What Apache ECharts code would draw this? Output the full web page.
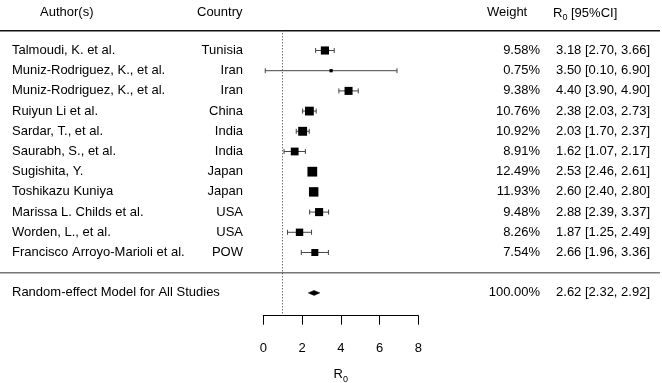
<!DOCTYPE html>
<html>
<head>
<meta charset="utf-8">
<script src="https://cdn.jsdelivr.net/npm/echarts@6/dist/echarts.min.js"></script>
<style>
html, body { margin: 0; padding: 0; background: #fff; }
#chart { width: 662px; height: 383px; }
</style>
</head>
<body>
<div id="chart"></div>
<script>
// study rows
var authors = ['Talmoudi, K. et al.', 'Muniz-Rodriguez, K., et al.', 'Muniz-Rodriguez, K., et al.',
    'Ruiyun Li et al.', 'Sardar, T., et al.', 'Saurabh, S., et al.', 'Sugishita, Y.', 'Toshikazu Kuniya',
    'Marissa L. Childs et al.', 'Worden, L., et al.', 'Francisco Arroyo-Marioli et al.'];
var countries = ['Tunisia', 'Iran', 'Iran', 'China', 'India', 'India', 'Japan', 'Japan', 'USA', 'USA', 'POW'];
var weights = [9.58, 0.75, 9.38, 10.76, 10.92, 8.91, 12.49, 11.93, 9.48, 8.26, 7.54];
var estimates = [3.18, 3.50, 4.40, 2.38, 2.03, 1.62, 2.53, 2.60, 2.88, 1.87, 2.66];
var lowers = [2.70, 0.10, 3.90, 2.03, 1.70, 1.07, 2.46, 2.40, 2.39, 1.25, 1.96];
var uppers = [3.66, 6.90, 4.90, 2.73, 2.37, 2.17, 2.61, 2.80, 3.37, 2.49, 3.36];

// pooled estimate
var summaryLabel = 'Random-effect Model for All Studies';
var summaryWeight = 100.00;
var summaryEst = 2.62;
var summaryLower = 2.32;
var summaryUpper = 2.92;

var xTicks = [0, 2, 4, 6, 8];
var refValue = 1;

var FONT = '13px "Liberation Sans", Arial, sans-serif';
var summaryRow = authors.length + 2;

var wMin = Math.min.apply(null, weights);
var wMax = Math.max.apply(null, weights);
function boxSize(w) {
    // metafor style: point size between 0.5 and 1.5 units
    return 6.5 * (0.5 + (w - wMin) / (wMax - wMin));
}
function fmtCI(e, lo, hi) {
    return e.toFixed(2) + ' [' + lo.toFixed(2) + ', ' + hi.toFixed(2) + ']';
}

var textRows = [];
var ciRows = [];
var pointRows = [];
for (var i = 0; i < authors.length; i++) {
    textRows.push([i + 1, authors[i], countries[i], weights[i].toFixed(2) + '%', fmtCI(estimates[i], lowers[i], uppers[i])]);
    ciRows.push([i + 1, lowers[i], uppers[i]]);
    pointRows.push([estimates[i], i + 1, weights[i]]);
}
textRows.push([summaryRow, summaryLabel, '', summaryWeight.toFixed(2) + '%', fmtCI(summaryEst, summaryLower, summaryUpper)]);

var chart = echarts.init(document.getElementById('chart'));

var subRich = {
    a: { fontSize: 13, fontFamily: 'Liberation Sans', color: '#000', lineHeight: 18, verticalAlign: 'middle' },
    b: { fontSize: 9, fontFamily: 'Liberation Sans', color: '#000', lineHeight: 18, verticalAlign: 'bottom' }
};

var option = {
    animation: false,
    backgroundColor: '#fff',
    grid: { left: 263.3, right: 243.7, top: 30.3, height: 285.4, containLabel: false, outerBoundsMode: 'none' },
    xAxis: {
        type: 'value',
        position: 'bottom',
        min: xTicks[0],
        max: xTicks[xTicks.length - 1],
        interval: 2,
        splitLine: { show: false },
        axisLine: { onZero: false, lineStyle: { color: '#000', width: 1 } },
        axisTick: { length: 9, lineStyle: { color: '#000', width: 1 } },
        axisLabel: { margin: 26, color: '#000', fontSize: 13, fontFamily: 'Liberation Sans' },
        name: '{a|R}{b|0}',
        nameLocation: 'middle',
        nameGap: 50,
        nameTextStyle: { rich: subRich }
    },
    yAxis: {
        type: 'value',
        inverse: true,
        min: 0,
        max: 14.13,
        show: false
    },
    graphic: [
        { type: 'text', left: 40, top: 6, style: { text: 'Author(s)', font: FONT, fill: '#000' } },
        { type: 'text', left: 197, top: 6, style: { text: 'Country', font: FONT, fill: '#000' } },
        { type: 'text', left: 487, top: 6, style: { text: 'Weight', font: FONT, fill: '#000' } },
        { type: 'text', left: 553, top: 6.5, style: { text: '{a|R}{b|0}{a| [95%CI]}', rich: subRich } },
        { type: 'line', shape: { x1: 0, y1: 30.7, x2: 660, y2: 30.7 }, style: { stroke: '#111', lineWidth: 1.5 } },
        { type: 'line', shape: { x1: 0, y1: 272.7, x2: 660, y2: 272.7 }, style: { stroke: '#777', lineWidth: 1.5 } }
    ],
    series: [
        {
            // text columns
            type: 'custom',
            silent: true,
            data: textRows,
            encode: { y: 0 },
            renderItem: function (params, api) {
                var y = api.coord([0, api.value(0)])[1];
                var r = textRows[params.dataIndex];
                return {
                    type: 'group',
                    children: [
                        { type: 'text', style: { x: 12, y: y, text: r[1], font: FONT, fill: '#000', align: 'left', verticalAlign: 'middle' } },
                        { type: 'text', style: { x: 243, y: y, text: r[2], font: FONT, fill: '#000', align: 'right', verticalAlign: 'middle' } },
                        { type: 'text', style: { x: 540, y: y, text: r[3], font: FONT, fill: '#000', align: 'right', verticalAlign: 'middle' } },
                        { type: 'text', style: { x: 650, y: y, text: r[4], font: FONT, fill: '#000', align: 'right', verticalAlign: 'middle' } }
                    ]
                };
            }
        },
        {
            // confidence intervals
            type: 'custom',
            silent: true,
            data: ciRows,
            encode: { x: [1, 2], y: 0 },
            renderItem: function (params, api) {
                var a = api.coord([api.value(1), api.value(0)]);
                var b = api.coord([api.value(2), api.value(0)]);
                var st = { stroke: '#444', lineWidth: 1 };
                return {
                    type: 'group',
                    children: [
                        { type: 'line', shape: { x1: a[0], y1: a[1], x2: b[0], y2: b[1] }, style: st },
                        { type: 'line', shape: { x1: a[0], y1: a[1] - 2.5, x2: a[0], y2: a[1] + 2.5 }, style: st },
                        { type: 'line', shape: { x1: b[0], y1: b[1] - 2.5, x2: b[0], y2: b[1] + 2.5 }, style: st }
                    ]
                };
            }
        },
        {
            // study estimates
            type: 'scatter',
            silent: true,
            symbol: 'rect',
            data: pointRows,
            symbolSize: function (v) { return boxSize(v[2]); },
            itemStyle: { color: '#000', opacity: 1 },
            markLine: {
                silent: true,
                symbol: 'none',
                label: { show: false },
                lineStyle: { color: '#333', width: 1, type: [1, 2] },
                data: [{ xAxis: refValue }]
            }
        },
        {
            // pooled diamond
            type: 'custom',
            silent: true,
            data: [[summaryRow, summaryLower, summaryEst, summaryUpper]],
            encode: { x: [1, 2, 3], y: 0 },
            renderItem: function (params, api) {
                var row = api.value(0);
                var l = api.coord([api.value(1), row]);
                var m = api.coord([api.value(2), row]);
                var u = api.coord([api.value(3), row]);
                return {
                    type: 'polygon',
                    shape: { points: [[l[0], l[1]], [m[0], m[1] - 2.5], [u[0], u[1]], [m[0], m[1] + 2.5]] },
                    style: { fill: '#000', stroke: '#000', lineWidth: 0.5 }
                };
            }
        }
    ]
};

chart.setOption(option);
</script>
</body>
</html>
